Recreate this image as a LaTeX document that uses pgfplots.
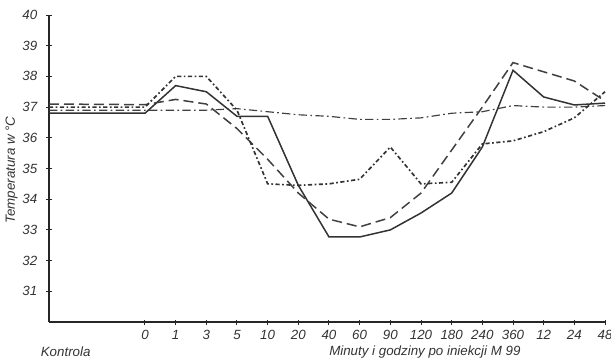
\documentclass[border=0pt]{standalone}
\usepackage{fontspec}
\setmainfont{Liberation Sans}
\usepackage{pgfplots}
\pgfplotsset{compat=1.18}
\pgfplotstableread{
x y
-3.13 36.8
0 36.8
1 37.7
2 37.5
3 36.7
4 36.7
5 34.45
6 32.77
7 32.77
8 33.0
9 33.55
10 34.2
11 35.7
12 38.2
13 37.33
14 37.07
15 37.13
}\seriesA
\pgfplotstableread{
x y
-3.13 37.1
0 37.08
1 37.25
2 37.1
3 36.3
4 35.3
5 34.2
6 33.35
7 33.1
8 33.4
9 34.2
10 35.6
11 37.0
12 38.45
13 38.15
14 37.85
15 37.2
}\seriesB
\pgfplotstableread{
x y
-3.13 36.9
0 36.9
1 36.9
2 36.9
3 36.95
4 36.85
5 36.75
6 36.7
7 36.6
8 36.6
9 36.65
10 36.8
11 36.85
12 37.05
13 37.0
14 37.0
15 37.05
}\seriesC
\pgfplotstableread{
x y
-3.13 37.0
0 37.0
1 38.0
2 38.0
3 36.9
4 34.5
5 34.45
6 34.5
7 34.65
8 35.7
9 34.5
10 34.55
11 35.8
12 35.9
13 36.2
14 36.65
15 37.5
}\seriesD
\begin{document}
\begin{tikzpicture}
\path[use as bounding box] (-29.4pt,-24.6pt) rectangle (337.2pt,193.2pt);
\begin{axis}[at={(0pt,0pt)}, anchor=south west, scale only axis,
  width=333.6pt, height=184.2pt,
  xmin=-3.13, xmax=15, ymin=30, ymax=40,
  axis x line*=bottom, axis y line*=left,
  axis line style={black!85, line width=0.8pt, -},
  xtick={0,...,15},
  xticklabels={0,1,3,5,10,20,40,60,90,120,180,240,360,12,24,48},
  ytick={31,...,40},
  tick align=center, major tick length=3pt,
  tick style={black!85, line width=0.6pt},
  tick label style={font=\footnotesize\itshape, text=black!80},
  yticklabel style={xshift=-2pt},
  /pgf/number format/assume math mode=true,
  clip=false,
]
\addplot[black!80, line width=0.9pt] table {\seriesA};
\addplot[black!75, line width=0.9pt, dash pattern=on 6pt off 3pt] table {\seriesB};
\addplot[black!75, line width=0.7pt, dash pattern=on 5pt off 2pt on 1pt off 2pt] table {\seriesC};
\addplot[black!80, line width=1pt, dash pattern=on 2.5pt off 1.5pt on 1pt off 1.5pt] table {\seriesD};
\path (rel axis cs:0,0.495) ++(-22.5pt,0pt) node[font=\footnotesize\itshape, text=black!80, rotate=90] {Temperatura w °C};
\path (rel axis cs:0.676,0) ++(0pt,-18pt) node[font=\footnotesize\itshape, text=black!80] {Minuty i godziny po iniekcji M 99};
\path (rel axis cs:0.03,0) ++(0pt,-18pt) node[font=\footnotesize\itshape, text=black!80] {Kontrola};
\end{axis}
\end{tikzpicture}
\end{document}
